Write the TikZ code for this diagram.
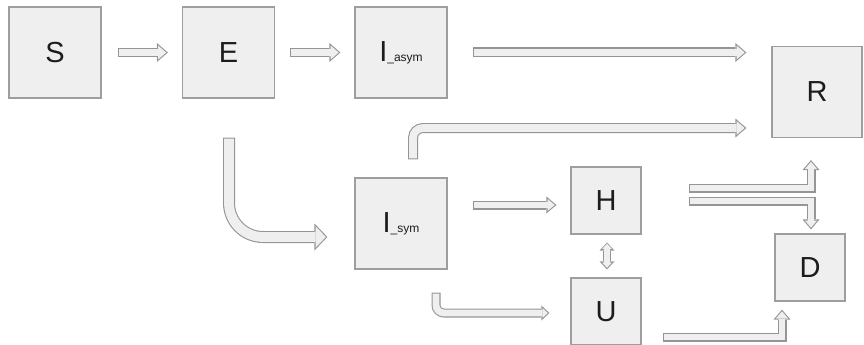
\documentclass[tikz,border=0pt]{standalone}
\usepackage{fontspec}
\setmainfont{Liberation Sans}
\usetikzlibrary{arrows.meta,calc}

\definecolor{boxfill}{HTML}{EFEFEF}
\definecolor{boxline}{HTML}{9E9E9E}
\definecolor{arrowfill}{HTML}{EFEFEF}
\definecolor{arrowline}{HTML}{959595}
\definecolor{labelcol}{HTML}{1C1C1C}

% hollow block arrow: grey rim first, then the light core on top
% #1 tips (flowhead), #2 shaft width, #3 head width, #4 head length, #5 path
\newcommand{\flow}[5][-]{%
  \pgfmathsetlengthmacro{\flowback}{1.1pt*sqrt((#3/2)^2+(#4)^2)/(#3/2)}%
  \pgfmathsetlengthmacro{\flowlen}{#4-\flowback-1.1pt}%
  \pgfmathsetlengthmacro{\flowwid}{#3*\flowlen/(#4)}%
  \pgfmathsetlengthmacro{\flowcore}{#2-2.2pt}%
  \tikzset{flowhead/.tip={Triangle[line width=0pt,length=#4,width=#3]}}%
  \draw[arrowline, line width=#2, #1flowhead] #5;
  \tikzset{flowhead/.tip={Triangle[line width=0pt,length=\flowlen,width=\flowwid]}}%
  \draw[arrowfill, line width=\flowcore, shorten >=\flowback, shorten <=1.1pt, #1flowhead] #5;
}
\newcommand{\sub}[1]{{\fontsize{12}{14}\selectfont\_#1}}

\tikzset{
  state/.style={draw=boxline, fill=boxfill, line width=1.2pt, inner sep=0pt,
    minimum width=92pt, minimum height=91pt, text=labelcol,
    font=\fontsize{29}{34}\selectfont},
  ward/.style={state, minimum width=70pt, minimum height=67pt}
}

\begin{document}
\begin{tikzpicture}[x=1pt, y=-1pt]
\useasboundingbox (0,0) rectangle (864,345);

% compartments
\node[state] (S)  at (55,52.5)    {S};
\node[state] (E)  at (228.5,52.5) {E};
\node[state] (Ia) at (401,52.5)   {I\sub{asym}};
\node[state, minimum width=90pt] (R) at (817,92) {R};
\node[state] (Is) at (401,223.5)  {I\sub{sym}};
\node[ward]  (H)  at (606,200.5)  {H};
\node[ward]  (U)  at (606,311.5)  {U};
\node[ward]  (D)  at (810,267.5)  {D};

% top row
\flow{9}{19}{11}{($(S.east)+(16,0)$) -- ($(E.west)+(-14,0)$)}
\flow{9}{19}{11}{($(E.east)+(14.5,0)$) -- ($(Ia.west)+(-14,0)$)}
\flow{10}{19}{11}{($(Ia.east)+(25,0)$) -- ($(R.west |- Ia.east)+(-25,0)$)}

% E bends down into I_sym
\flow{12}{27}{13}{($(E.south)+(0.5,39)$) [rounded corners=34pt] |- ($(Is.west)+(-27,13.5)$)}

% out of I_sym
\flow{10}{19}{11}{($(Is.north)+(12,-18)$) [rounded corners=10pt] |- ($(R.west)+(-25,36)$)}
\flow{9}{17}{10}{($(Is.east)+(25,-18.5)$) -- ($(H.west)+(-14,4.5)$)}
\flow{9}{15}{8}{($(Is.south)+(35,23)$) [rounded corners=8pt] |- ($(U.west)+(-21,1.5)$)}

% between H and U
\flow[flowhead-]{8}{15}{8}{($(H.south)+(1,8)$) -- ($(U.north)+(1,-8)$)}

% outcomes
\flow{9}{17}{10}{($(H.east)+(47,-12.5)$) -| ($(R.south)+(-6,22)$)}
\flow{9}{17}{10}{($(H.east)+(47,0.5)$) -| ($(D.north)+(1,-4)$)}
\flow{9}{17}{10}{($(U.east)+(21,25.5)$) -| ($(D.south)+(-28,8)$)}
\end{tikzpicture}
\end{document}
